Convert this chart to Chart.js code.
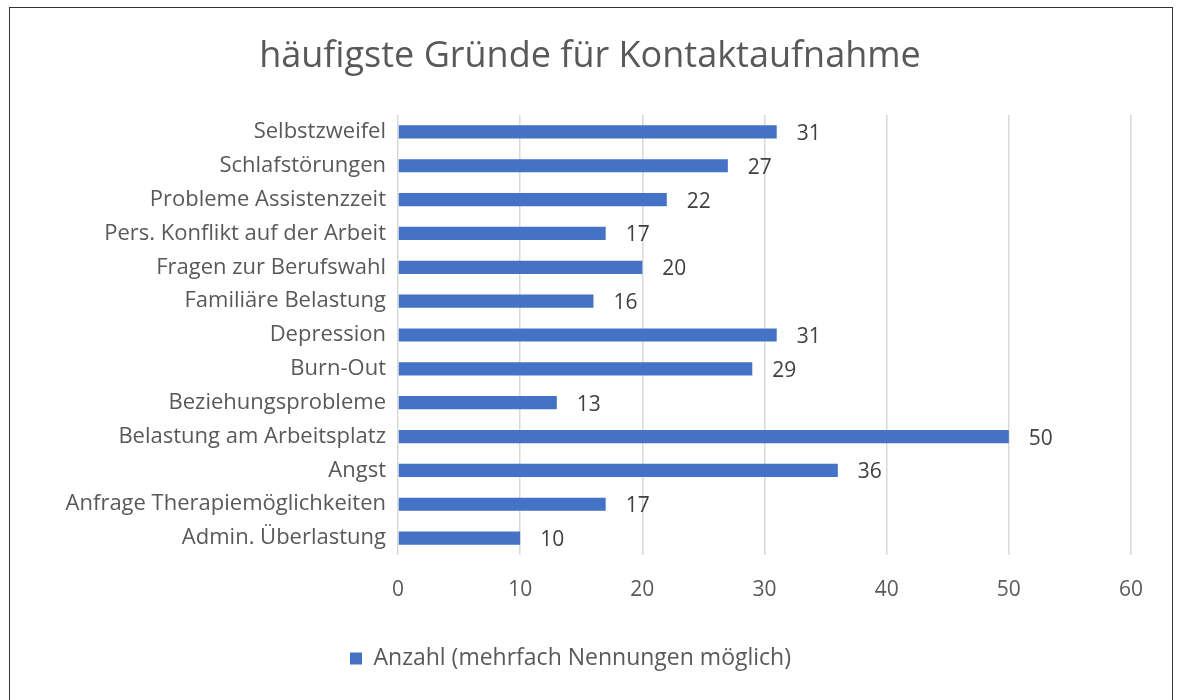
<!DOCTYPE html>
<html>
<head>
<meta charset="utf-8">
<script src="https://cdn.jsdelivr.net/npm/chart.js@4.4.1/dist/chart.umd.min.js"></script>
<style>
  html, body { margin: 0; padding: 0; background: #fff; overflow: hidden; }
  #wrap { position: relative; width: 1178px; height: 700px; }
  #frame {
    position: absolute; left: 9px; top: 7px; width: 1162px; height: 720px;
    border: 1.5px solid #333; pointer-events: none;
  }
</style>
</head>
<body>
<div id="wrap">
  <canvas id="chart" width="1178" height="700"></canvas>
  <div id="frame"></div>
</div>
<script>
'use strict';

// ── Data ─────────────────────────────────────────────────────────────────────
const CATEGORIES = [
  'Selbstzweifel',
  'Schlafstörungen',
  'Probleme Assistenzzeit',
  'Pers. Konflikt auf der Arbeit',
  'Fragen zur Berufswahl',
  'Familiäre Belastung',
  'Depression',
  'Burn-Out',
  'Beziehungsprobleme',
  'Belastung am Arbeitsplatz',
  'Angst',
  'Anfrage Therapiemöglichkeiten',
  'Admin. Überlastung',
];
const COUNTS = [31, 27, 22, 17, 20, 16, 31, 29, 13, 50, 36, 17, 10];
const SERIES_LABEL = 'Anzahl (mehrfach Nennungen möglich)';
const TITLE = 'häufigste Gründe für Kontaktaufnahme';
const X_MIN = 0, X_MAX = 60, X_STEP = 10;

const FONT = "'Open Sans', sans-serif";
const BLUE = '#4472C4';
const TEXT_GREY = '#595959';

// Title drawn by hand so it can sit a little right of the plot centre
const titlePlugin = {
  id: 'titleText',
  afterDraw(chart) {
    const ctx = chart.ctx;
    ctx.save();
    ctx.font = '36px ' + FONT;
    ctx.fillStyle = TEXT_GREY;
    ctx.textAlign = 'center';
    ctx.textBaseline = 'middle';
    ctx.fillText(TITLE, 590, 57);
    ctx.restore();
  },
};

// Value labels just right of each bar end
const valueLabels = {
  id: 'valueLabels',
  afterDatasetsDraw(chart) {
    const ctx = chart.ctx;
    const meta = chart.getDatasetMeta(0);
    ctx.save();
    ctx.font = '21px ' + FONT;
    ctx.fillStyle = '#404040';
    ctx.textBaseline = 'middle';
    ctx.textAlign = 'left';
    meta.data.forEach(function (bar, i) {
      ctx.fillText(String(COUNTS[i]), bar.x + 20, bar.y + 2);
    });
    ctx.restore();
  },
};

new Chart(document.getElementById('chart'), {
  type: 'bar',
  data: {
    labels: CATEGORIES,
    datasets: [{
      label: SERIES_LABEL,
      data: COUNTS,
      backgroundColor: BLUE,
      borderWidth: 0,
      barPercentage: 0.39,
      categoryPercentage: 1,
    }],
  },
  options: {
    indexAxis: 'y',
    responsive: false,
    animation: false,
    layout: { padding: { left: 10, right: 47, top: 115, bottom: 20 } },
    plugins: {
      title: { display: false },
      legend: {
        position: 'bottom',
        labels: {
          color: TEXT_GREY,
          font: { family: FONT, size: 23 },
          boxWidth: 12,
          boxHeight: 12,
          padding: 9,
        },
      },
      tooltip: { enabled: false },
    },
    scales: {
      x: {
        min: X_MIN,
        max: X_MAX,
        ticks: {
          stepSize: X_STEP,
          color: TEXT_GREY,
          font: { family: FONT, size: 21 },
          padding: 22,
        },
        grid: { color: '#d9d9d9', lineWidth: 1.5, drawTicks: false },
        border: { display: false },
        afterFit: function (scale) { scale.height = 83; },
      },
      y: {
        ticks: {
          color: TEXT_GREY,
          font: { family: FONT, size: 22 },
          padding: 12,
        },
        grid: { display: false, drawTicks: false },
        border: { display: false },
        afterFit: function (scale) { scale.width = 388; },
      },
    },
  },
  plugins: [valueLabels, titlePlugin],
});
</script>
</body>
</html>
